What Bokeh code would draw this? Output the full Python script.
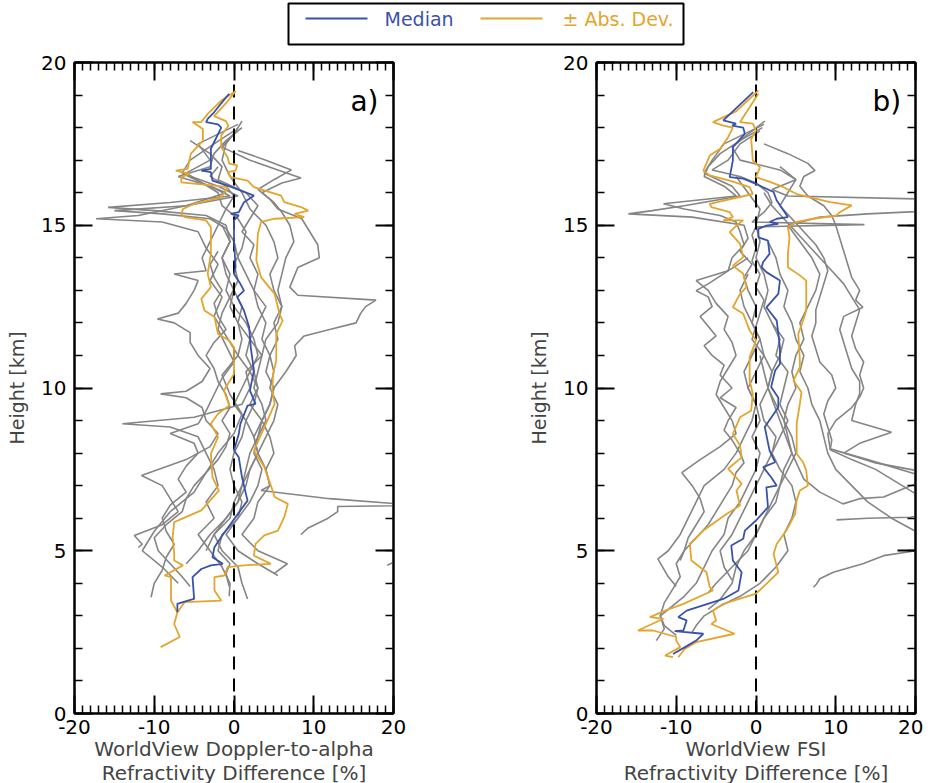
from bokeh.plotting import figure
from bokeh.models import Range1d, SingleIntervalTicker, LinearAxis, Label
from bokeh.layouts import column, row
from bokeh.core.properties import value
from bokeh.embed import file_html
from bokeh.resources import INLINE

FONT = "DejaVu Sans"
GRAY = "#858585"
BLUE = "#3A52A8"
ORANGE = "#E2A52E"

# ---------------- data (x = refractivity difference %, h = height km) ----------------
x_ticks = [-20, -10, 0, 10, 20]
zero_x = [0, 0]
zero_h = [0, 19.45]

# Panel a) WorldView Doppler-to-alpha
a_median = [(-0.6,19.04),(-1.0,18.93),(-2.5,18.47),(-3.3,18.27),(-3.5,18.17),(-2.0,18.10),(-1.6,18.00),(-2.5,17.55),(-2.9,17.35),(-2.9,16.73),(-4.1,16.68),(-2.9,16.63),(-2.7,16.37),(-0.8,16.22),(0.8,16.07),(2.5,15.91),(1.25,15.71),(0.6,15.40),(-0.4,15.35),(0.6,15.30),(0.0,15.15),(0.0,14.53),(0.2,13.71),(0.0,13.50),(0.8,13.20),(1.25,12.99),(0.4,12.79),(1.25,12.38),(1.9,11.87),(2.1,11.25),(2.5,10.54),(2.0,9.92),(2.7,9.51),(1.7,9.46),(0.8,8.90),(0.6,8.59),(0.0,8.08),(0.6,7.87),(1.0,7.26),(1.7,6.54),(0.8,6.24),(-0.4,5.83),(-1.6,5.42),(-2.45,5.11),(-2.7,4.80),(-1.4,4.60),(-2.9,4.55),(-4.1,4.44),(-5.2,4.19),(-5.0,3.52),(-5.8,3.47),(-7.1,3.37),(-7.1,3.11)]
a_dev_lo = [(0.2,19.12),(-1.6,18.83),(-3.3,18.42),(-4.1,18.17),(-5.2,18.17),(-3.9,17.96),(-3.9,17.60),(-5.4,17.20),(-5.6,16.99),(-5.8,16.73),(-7.3,16.68),(-5.6,16.58),(-6.6,16.48),(-6.6,16.32),(-2.5,16.22),(-0.8,16.17),(-1.6,15.86),(-5.0,15.66),(-6.4,15.50),(-6.6,15.35),(-6.2,15.25),(-3.5,15.15),(-2.9,14.94),(-2.9,14.12),(-3.3,13.51),(-2.9,13.10),(-4.1,12.74),(-3.7,12.38),(-2.45,12.18),(-2.0,11.66),(-0.6,11.46),(0.0,11.25),(0.0,10.43),(-1.0,10.03),(-1.25,9.92),(-0.6,9.46),(-2.0,9.21),(-2.9,8.90),(-2.0,8.49),(-2.9,7.98),(-2.7,7.26),(-1.9,6.85),(-4.1,6.24),(-7.5,5.88),(-7.7,5.42),(-7.5,4.90),(-7.5,4.70),(-6.4,4.55),(-8.7,4.24),(-7.9,4.19),(-7.9,3.47),(-7.1,3.11),(-7.5,2.75),(-6.8,2.35),(-9.2,2.04)]
a_dev_hi = [(0.2,19.12),(-1.0,18.75),(-2.5,18.35),(-1.0,18.20),(-0.7,18.05),(-1.6,17.76),(-1.6,17.40),(-0.8,17.09),(-0.6,16.89),(0.4,16.84),(0.2,16.68),(-0.8,16.63),(-0.4,16.48),(1.7,16.37),(2.5,16.17),(5.9,15.91),(6.3,15.71),(8.4,15.56),(9.3,15.45),(7.6,15.35),(8.8,15.25),(5.1,15.20),(3.4,15.10),(3.0,14.74),(2.8,13.92),(3.4,13.40),(5.1,12.89),(5.7,12.28),(6.1,12.07),(5.3,11.66),(5.3,10.84),(4.9,10.43),(4.8,9.92),(5.1,9.51),(4.0,8.90),(2.5,8.08),(3.8,7.57),(4.7,6.95),(5.1,6.65),(6.75,6.44),(6.3,6.03),(5.5,5.62),(3.8,5.47),(2.7,5.21),(2.5,4.85),(4.6,4.60),(1.3,4.55),(-0.8,4.50),(-1.2,4.24),(-2.45,4.19),(-2.45,3.78),(-1.6,3.47),(-6.2,3.42),(-7.1,3.11)]

a_g1 = [(0.5,18.1),(-2.0,17.8),(-4.5,17.5),(-3.0,17.0),(-6.0,16.6),(-4.0,16.3),(-1.0,16.0),(-6.0,15.6),(-12.0,15.3),(-17.3,15.2),(-9.0,15.1),(-4.5,14.8),(-3.5,14.3),(-2.0,13.8),(-3.0,13.3),(-1.5,12.8),(-2.5,12.2),(-1.0,11.6),(0.5,11.0),(-1.5,10.4),(-0.5,9.8),(1.0,9.2),(0.0,8.6),(-2.0,8.0),(-3.5,7.4),(-5.0,6.8),(-8.0,6.2),(-10.0,5.6),(-11.5,5.0),(-9.0,4.5),(-7.0,4.0)]
a_g2 = [(1.0,18.0),(-1.0,17.6),(-2.5,17.2),(-3.0,16.8),(-7.0,16.5),(-3.0,16.2),(-0.5,15.9),(-8.0,15.7),(-15.8,15.55),(-10.0,15.45),(-3.5,15.3),(-1.0,15.0),(-0.5,14.5),(-1.5,14.0),(-1.0,13.5),(0.0,13.0),(1.0,12.5),(0.5,12.0),(2.0,11.5),(1.5,11.0),(2.5,10.5),(3.0,10.0),(2.0,9.5),(3.5,9.0),(2.5,8.5),(3.0,8.0),(2.0,7.5),(1.5,7.0),(0.5,6.5),(-1.0,6.0),(-3.0,5.5),(-4.5,5.0),(-6.0,4.6)]
a_g3 = [(0.0,17.9),(-2.5,17.5),(-5.5,17.0),(-6.5,16.6),(-2.0,16.2),(0.5,15.9),(-6.0,15.6),(-15.0,15.45),(-9.0,15.35),(-3.0,15.2),(-1.0,14.9),(0.0,14.5),(0.5,14.0),(1.5,13.5),(2.5,13.0),(3.0,12.5),(4.0,12.0),(3.5,11.5),(4.5,11.0),(4.0,10.5),(5.0,10.0),(4.5,9.5),(3.5,9.0),(4.5,8.5),(5.0,8.0),(4.0,7.5),(4.5,7.0),(3.0,6.5),(2.5,6.0),(1.0,5.5),(3.0,5.0),(6.7,4.6),(5.0,4.3)]
a_g4 = [(0.5,17.3),(4.0,17.0),(7.2,16.7),(5.0,16.4),(3.0,16.1),(4.5,15.8),(5.5,15.5),(8.5,15.2),(9.5,14.8),(10.5,14.4),(10.7,14.0),(8.0,13.7),(7.5,13.4),(7.0,13.1),(8.0,12.85),(17.8,12.7),(16.5,12.5),(15.9,12.3),(15.3,12.0),(12.0,11.8),(8.8,11.6),(7.6,11.3),(7.8,11.0),(6.5,10.5),(5.0,10.0),(4.5,9.5),(3.5,9.0),(3.0,8.5),(2.0,8.0),(1.5,7.5),(1.0,7.0),(0.5,6.5),(-1.0,6.0),(-2.5,5.5),(-3.5,5.0)]
a_g5 = [(1.0,18.2),(0.0,17.8),(-1.5,17.4),(2.0,17.0),(5.5,16.7),(8.4,16.45),(6.0,16.3),(3.5,16.0),(5.0,15.7),(6.0,15.4),(7.0,15.0),(7.5,14.5),(6.5,14.0),(6.0,13.5),(5.5,13.0),(6.0,12.5),(5.0,12.0),(5.5,11.5),(4.5,11.0),(5.0,10.5),(4.5,10.0),(5.5,9.5),(5.0,9.0),(4.0,8.5),(3.0,8.0),(4.0,7.5),(4.5,7.0),(3.4,6.85),(12.0,6.6),(20.0,6.45),(25.0,6.4),(13.0,6.36),(13.0,6.2),(11.8,6.0),(9.3,5.7),(8.4,5.5)]
a_g6 = [(-5.5,17.6),(-3.0,17.2),(-1.5,16.8),(-2.0,16.4),(1.5,16.0),(3.0,15.6),(2.0,15.2),(1.0,14.8),(2.5,14.4),(2.0,14.0),(3.0,13.5),(2.5,13.0),(4.0,12.5),(3.0,12.0),(2.0,11.5),(3.5,11.0),(1.5,10.5),(2.0,10.0),(1.0,9.5),(-5.0,9.1),(-14.0,8.9),(-8.0,8.8),(-4.5,8.5),(-3.5,8.0),(-2.5,7.5),(-2.0,7.0),(-3.5,6.5),(-2.5,6.0),(-4.5,5.5),(-3.0,5.0),(-1.5,4.5),(-0.5,4.0),(-0.6,3.6)]
a_g7 = [(-2.0,16.8),(-3.0,16.5),(-1.0,16.2),(0.0,15.9),(-1.0,15.5),(-2.0,15.0),(-3.0,14.5),(-4.0,14.0),(-3.5,13.6),(-7.5,13.5),(-4.5,13.3),(-5.0,13.0),(-6.0,12.6),(-7.0,12.3),(-9.6,12.12),(-7.5,12.0),(-5.5,11.7),(-5.5,11.4),(-4.5,11.0),(-3.0,10.6),(-4.0,10.2),(-6.0,9.9),(-9.2,9.82),(-6.0,9.7),(-4.0,9.4),(-3.5,9.0),(-2.0,8.6),(-3.0,8.2),(-6.0,7.8),(-11.6,7.31),(-9.0,7.0),(-8.0,6.6),(-7.0,6.2),(-9.0,5.8),(-12.5,5.47),(-11.5,5.2),(-12.0,5.1)]
a_g8 = [(-6.5,16.6),(-4.0,16.3),(-2.0,16.0),(-1.5,15.6),(0.5,15.2),(1.5,14.8),(1.0,14.3),(0.0,13.8),(0.5,13.3),(-0.5,12.8),(-1.5,12.3),(-2.0,11.8),(-1.0,11.3),(0.0,10.8),(-1.5,10.3),(-2.5,9.8),(-3.5,9.3),(-4.5,8.9),(-8.0,8.6),(-5.0,8.3),(-4.5,8.0),(-6.0,7.6),(-7.0,7.2),(-6.0,6.8),(-8.0,6.4),(-9.0,6.0),(-8.5,5.6),(-7.5,5.2),(-8.5,4.8),(-9.0,4.4),(-10.0,4.0),(-10.4,3.57)]
a_g9 = [(0.5,18.0),(-1.0,17.5),(-1.5,17.0),(-0.5,16.5),(1.0,16.0),(2.0,15.5),(4.0,15.0),(5.0,14.5),(5.5,14.0),(4.5,13.5),(5.0,13.0),(6.0,12.5),(5.5,12.0),(4.0,11.5),(3.5,11.0),(3.0,10.5),(2.5,10.0),(3.5,9.5),(4.0,9.0),(3.0,8.5),(2.5,8.0),(3.5,7.5),(3.0,7.0),(2.0,6.5),(0.5,6.0),(-1.0,5.5),(0.5,5.0),(3.0,4.6),(5.5,4.24)]
a_g10 = [(-1.5,15.0),(-0.5,14.5),(-1.5,14.0),(-0.5,13.5),(-1.0,13.0),(0.0,12.5),(1.5,12.0),(2.5,11.5),(3.0,11.0),(2.0,10.5),(1.0,10.0),(0.0,9.5),(1.5,9.0),(2.5,8.5),(3.0,8.0),(2.0,7.5),(1.0,7.0),(0.0,6.5),(-0.5,6.0),(-2.5,5.5),(-1.5,5.0),(0.5,4.5),(1.0,4.0),(1.7,3.52)]
a_g11 = [(-2.0,14.2),(-3.0,13.8),(-2.5,13.4),(-1.5,13.0),(-2.5,12.6),(-2.0,12.2),(-1.0,11.8),(-2.5,11.4),(-3.5,11.0),(-2.5,10.6),(-2.0,10.2),(-1.0,9.8),(-0.5,9.4),(-1.5,9.0),(-0.5,8.6),(-1.0,8.2),(-2.0,7.8),(-3.5,7.4),(-5.0,7.0),(-6.0,6.6),(-6.5,6.2),(-8.5,5.8),(-10.0,5.4),(-9.5,5.0),(-8.0,4.6),(-6.5,4.2),(-5.5,3.9)]
a_g12 = [(0.0,13.0),(-0.5,12.5),(0.5,12.0),(1.0,11.5),(0.5,11.0),(2.0,10.5),(3.0,10.0),(2.5,9.5),(1.5,9.0),(1.0,8.5),(0.0,8.0),(-0.5,7.5),(0.0,7.0),(1.0,6.5),(0.5,6.0),(-1.5,5.5),(-2.0,5.0),(-0.5,4.6),(-1.0,4.3),(-0.6,3.9)]
a_g13 = [(21.0,4.75),(19.6,4.6),(19.2,4.55)]

# Panel b) WorldView FSI
b_median = [(-0.35,19.09),(-4.1,18.22),(-2.5,18.12),(-3.0,18.06),(-1.6,18.0),(-1.4,17.81),(-2.9,17.40),(-2.9,16.99),(-3.3,16.48),(-1.6,16.43),(0.0,16.27),(2.2,16.02),(2.6,15.76),(4.0,15.25),(2.6,15.20),(1.7,15.10),(2.8,15.04),(1.3,14.99),(0.3,14.89),(0.3,14.63),(1.5,14.53),(1.7,14.12),(0.9,13.87),(0.7,13.71),(1.3,13.56),(3.0,13.30),(2.8,12.89),(1.3,12.48),(2.6,12.07),(3.0,11.25),(3.0,10.74),(2.4,10.54),(1.9,10.03),(2.8,9.70),(2.8,9.41),(1.1,8.80),(1.7,8.08),(2.4,7.72),(0.9,7.57),(1.9,7.26),(2.6,7.00),(1.3,6.95),(1.5,6.34),(0.0,5.93),(-1.4,5.62),(-1.6,5.37),(-3.1,5.16),(-2.9,4.70),(-1.8,4.34),(-2.2,3.78),(-4.1,3.52),(-8.7,3.16),(-9.75,2.96),(-8.7,2.86),(-9.1,2.55),(-10.2,2.53),(-6.6,2.45),(-7.5,2.24),(-8.9,2.04),(-10.4,1.83)]
b_dev_lo = [(0.3,19.14),(-2.5,18.5),(-5.4,18.17),(-4.1,18.06),(-2.9,18.0),(-3.5,17.7),(-4.5,17.35),(-5.8,17.14),(-6.6,16.68),(-5.8,16.53),(-3.3,16.37),(-0.8,16.17),(-0.4,15.96),(-5.8,15.66),(-5.6,15.56),(-3.3,15.40),(-2.9,15.25),(-4.1,15.15),(-1.6,15.15),(-2.45,14.99),(-3.3,14.79),(-2.0,14.43),(-1.6,14.02),(-2.9,13.76),(-1.6,13.51),(-1.2,13.10),(-2.0,12.89),(-2.9,12.48),(-1.6,12.28),(-0.8,11.77),(0.0,11.46),(-0.8,10.95),(-0.8,10.23),(-0.4,9.82),(-0.6,9.31),(-2.0,9.10),(-2.9,8.59),(-2.0,8.23),(-1.8,7.87),(-3.5,7.52),(-1.8,7.06),(-2.45,6.85),(-2.0,6.39),(-3.7,6.13),(-6.6,5.62),(-8.3,5.21),(-8.1,4.70),(-6.2,4.34),(-5.8,3.88),(-5.4,3.78),(-9.1,3.37),(-11.4,3.16),(-13.3,2.96),(-11.6,2.91),(-14.8,2.55),(-12.9,2.55),(-10.0,2.35),(-10.0,2.24),(-9.5,2.04),(-11.4,1.78),(-10.4,1.73)]
b_dev_hi = [(0.3,19.04),(-2.0,18.17),(-0.4,18.12),(0.0,17.91),(-0.6,17.65),(-0.4,16.99),(0.5,16.78),(0.0,16.48),(1.3,16.37),(3.0,16.22),(5.1,15.96),(9.3,15.71),(12.0,15.61),(10.5,15.40),(10.1,15.30),(7.2,15.20),(5.1,15.10),(4.0,14.94),(4.2,14.63),(4.0,14.12),(4.0,13.71),(5.5,13.46),(6.3,13.30),(6.3,12.89),(6.3,12.38),(5.9,12.07),(5.3,11.66),(5.5,10.84),(5.5,10.64),(4.7,10.23),(5.7,9.87),(5.5,9.51),(5.1,8.90),(5.1,7.98),(5.9,7.72),(6.3,7.47),(6.5,7.00),(5.5,6.85),(5.1,6.54),(4.9,6.13),(3.8,5.62),(2.6,5.21),(2.2,4.90),(2.8,4.34),(1.3,3.98),(0.0,3.68),(-4.1,3.37),(-5.4,3.16),(-5.0,2.86),(-5.6,2.75),(-2.7,2.45),(-7.5,2.19),(-8.9,1.99),(-9.75,1.73)]

b_g1 = [(1.0,18.1),(-1.5,17.8),(-4.0,17.5),(-5.5,17.0),(-6.5,16.6),(-3.0,16.2),(-2.0,15.9),(-9.0,15.6),(-13.0,15.45),(-16.0,15.35),(-8.0,15.25),(-1.5,15.0),(-1.0,14.6),(-2.0,14.2),(-0.5,13.8),(-1.5,13.4),(-1.0,13.0),(0.0,12.5),(-0.5,12.0),(0.5,11.5),(-0.5,11.0),(-1.5,10.5),(-1.0,10.0),(0.0,9.5),(-0.5,9.0),(-1.5,8.5),(-2.5,8.0),(-4.0,7.5),(-6.5,7.0),(-7.5,6.5),(-8.5,6.0),(-9.5,5.5),(-11.0,5.0),(-12.3,4.75),(-11.0,4.2),(-10.0,3.9)]
b_g2 = [(0.8,18.0),(-2.0,17.6),(-4.5,17.2),(-6.0,16.8),(-6.5,16.5),(-4.0,16.2),(-2.5,15.9),(-11.6,15.66),(-9.0,15.5),(-4.5,15.3),(-2.5,15.1),(-2.0,14.8),(-1.5,14.4),(-3.0,14.0),(-3.5,13.6),(-7.5,13.3),(-6.0,13.0),(-5.0,12.6),(-3.5,12.2),(-4.0,11.8),(-3.0,11.4),(-2.5,11.0),(-3.5,10.6),(-4.5,10.2),(-5.0,9.8),(-4.0,9.4),(-3.0,9.0),(-2.5,8.6),(-4.5,8.2),(-7.0,7.8),(-9.3,7.4),(-8.0,7.0),(-7.0,6.6),(-6.5,6.2),(-7.5,5.8),(-8.5,5.4),(-9.0,5.0),(-10.0,4.6),(-9.5,4.2),(-10.5,3.8),(-11.5,3.4),(-12.0,3.0),(-11.5,2.6),(-12.5,2.24)]
b_g3 = [(1.1,18.2),(-1.0,17.8),(-3.0,17.4),(-2.0,17.0),(3.0,16.7),(5.0,16.4),(2.0,16.1),(4.0,15.9),(20.0,15.81),(26.0,15.6),(20.0,15.42),(14.0,15.35),(8.0,15.25),(4.0,15.0),(5.5,14.5),(7.0,14.0),(8.0,13.5),(7.5,13.0),(6.5,12.5),(5.5,12.0),(6.0,11.5),(5.0,11.0),(4.5,10.5),(5.0,10.0),(4.0,9.5),(3.5,9.0),(4.5,8.5),(5.0,8.0),(4.0,7.5),(3.0,7.0),(2.0,6.5),(1.0,6.0),(0.0,5.5),(-1.0,5.0),(-3.0,4.5),(-5.0,4.0),(-6.0,3.7)]
b_g4 = [(0.5,17.9),(-2.0,17.5),(-3.5,17.0),(-5.5,16.7),(-2.0,16.5),(0.0,16.3),(1.5,16.0),(2.0,15.7),(1.0,15.4),(-0.5,15.1),(13.6,15.02),(0.0,14.95),(-0.5,14.7),(0.0,14.3),(-0.5,13.9),(0.5,13.5),(0.0,13.1),(1.0,12.7),(0.5,12.3),(0.0,11.9),(-0.5,11.5),(1.0,11.0),(2.0,10.5),(1.5,10.0),(0.5,9.5),(1.0,9.0),(2.5,8.5),(2.0,8.0),(1.0,7.5),(0.0,7.0),(-1.0,6.5),(-2.0,6.0),(-3.0,5.5),(-4.5,5.0),(-4.0,4.5),(-3.0,4.1)]
b_g5 = [(1.0,17.5),(4.0,17.2),(6.5,16.9),(7.4,16.68),(6.0,16.5),(5.5,16.2),(6.5,15.9),(8.5,15.6),(9.5,15.3),(10.0,15.0),(10.5,14.6),(11.0,14.2),(11.5,13.8),(12.0,13.4),(13.0,13.0),(12.5,12.7),(13.4,12.48),(11.0,12.2),(10.5,11.8),(11.0,11.4),(11.5,11.0),(12.0,10.6),(13.0,10.2),(13.0,9.82),(12.5,9.5),(12.0,9.0),(17.0,8.64),(13.0,8.3),(11.0,8.0),(15.0,7.7),(20.0,7.47),(24.0,7.3)]
b_g6 = [(3.0,16.8),(5.0,16.4),(4.0,16.0),(3.0,15.6),(4.5,15.2),(6.0,14.8),(7.5,14.4),(8.5,14.0),(9.0,13.6),(8.5,13.2),(8.0,12.8),(7.5,12.4),(7.5,12.0),(7.0,11.6),(7.5,11.2),(8.0,10.8),(9.5,10.4),(10.0,10.0),(9.0,9.6),(8.5,9.2),(9.0,8.8),(9.5,8.4),(9.3,8.1),(12.0,7.8),(15.0,7.5),(17.0,7.2),(19.0,6.9),(21.0,6.6),(22.0,6.3),(21.0,6.1),(19.3,6.03),(14.0,6.0),(10.1,5.95)]
b_g7 = [(1.5,14.5),(2.5,14.0),(3.0,13.5),(4.0,13.0),(3.5,12.5),(4.5,12.0),(5.0,11.5),(6.0,11.0),(5.5,10.5),(6.5,10.0),(7.0,9.5),(8.0,9.0),(8.5,8.5),(9.0,8.0),(10.0,7.5),(12.0,7.0),(14.0,6.5),(17.0,6.0),(20.0,5.6),(23.0,5.3),(20.1,5.0),(16.0,4.85),(13.4,4.6),(9.7,4.34),(8.0,4.14),(7.6,3.98),(7.2,3.88)]
b_g8 = [(-1.0,13.5),(-2.0,13.0),(-1.5,12.5),(-0.5,12.0),(0.5,11.5),(1.0,11.0),(0.0,10.5),(-1.0,10.0),(0.0,9.5),(0.5,9.0),(-0.5,8.5),(0.5,8.0),(0.0,7.5),(-1.0,7.0),(-2.0,6.5),(-3.5,6.0),(-4.0,5.5),(-5.5,5.0),(-6.5,4.5),(-7.5,4.0),(-9.0,3.6),(-10.5,3.3),(-12.0,3.0),(-11.5,2.7),(-10.0,2.4)]
b_g9 = [(2.0,12.0),(3.0,11.5),(2.5,11.0),(4.0,10.5),(3.5,10.0),(3.0,9.5),(4.0,9.0),(3.0,8.5),(2.0,8.0),(3.0,7.5),(4.5,7.0),(5.0,6.5),(4.5,6.0),(3.5,5.5),(4.0,5.0),(2.5,4.5),(0.5,4.0),(-2.0,3.6),(-4.5,3.3),(-6.5,3.0),(-7.5,2.7),(-8.0,2.5)]
b_g10 = [(-1.0,14.0),(-3.5,13.6),(-6.0,13.2),(-7.5,12.99),(-6.0,12.8),(-5.5,12.5),(-7.0,12.2),(-6.0,11.9),(-5.0,11.6),(-6.5,11.3),(-5.5,11.0),(-4.0,10.7),(-4.5,10.4),(-3.0,10.0),(-4.5,9.7),(-2.5,9.4),(-3.5,9.0),(-4.0,8.7),(-3.0,8.4),(-2.0,8.0),(-1.5,7.7),(-2.5,7.4),(-3.0,7.0),(-4.0,6.6),(-5.0,6.2),(-6.0,5.8),(-7.5,5.4),(-9.0,5.0),(-9.5,4.7)]
b_g11 = [(-2.5,16.5),(-1.0,16.0),(0.5,15.5),(0.0,15.0),(0.5,14.5),(0.0,14.0),(1.0,13.5),(1.5,13.0),(1.0,12.5),(2.0,12.0),(3.5,11.5),(3.0,11.0),(2.0,10.5),(1.5,10.0),(2.5,9.5),(3.5,9.0),(4.0,8.5),(4.5,8.0),(3.5,7.5),(3.0,7.0),(2.5,6.5),(1.0,6.0),(0.0,5.5),(-1.5,5.0),(-2.5,4.5),(-3.0,4.0),(-4.5,3.5),(-6.0,3.2)]
b_g12 = [(1.0,16.0),(2.0,15.6),(3.5,15.2),(5.0,14.8),(6.5,14.4),(8.0,14.0),(9.5,13.6),(11.0,13.2),(12.0,12.8),(13.0,12.4),(12.5,12.0),(12.0,11.6),(12.5,11.2),(13.5,10.8),(13.0,10.4),(13.5,10.0),(13.0,9.72),(12.0,9.4),(10.0,9.0),(9.0,8.6),(9.3,8.13),(14.0,7.8),(20.0,7.36),(24.0,7.1)]
b_g13 = [(0.5,11.0),(1.5,10.0),(3.0,9.0),(4.5,8.0),(6.0,7.2),(8.0,6.8),(10.9,6.44),(13.0,6.6),(16.0,6.65),(20.0,7.06),(24.0,7.3)]

a_gray = [a_g1, a_g2, a_g3, a_g4, a_g5, a_g6, a_g7, a_g8, a_g9, a_g10, a_g11, a_g12, a_g13]
b_gray = [b_g1, b_g2, b_g3, b_g4, b_g5, b_g6, b_g7, b_g8, b_g9, b_g10, b_g11, b_g12, b_g13]

a_xlabel = "WorldView Doppler-to-alpha\nRefractivity Difference [%]"
b_xlabel = "WorldView FSI\nRefractivity Difference [%]"
y_label = "Height [km]"


def xs_of(pts):
    return [p[0] for p in pts]


def hs_of(pts):
    return [p[1] for p in pts]


def style_axis(ax, show_labels):
    ax.axis_line_color = "black"
    ax.axis_line_width = 2
    ax.major_tick_in = 18
    ax.major_tick_out = 0
    ax.minor_tick_in = 8
    ax.minor_tick_out = 0
    ax.major_tick_line_color = "black"
    ax.minor_tick_line_color = "black"
    ax.major_tick_line_width = 2
    ax.minor_tick_line_width = 1.5
    if show_labels:
        ax.major_label_text_font = FONT
        ax.major_label_text_font_size = "20px"
        ax.major_label_text_color = "black"
    else:
        ax.major_label_text_font_size = "1px"
        ax.major_label_text_color = None
        ax.major_label_standoff = 0


def make_panel(gray, median, lo, hi, tag, xlabel, border_right):
    p = figure(frame_width=319, frame_height=651,
               x_range=Range1d(-20, 20), y_range=Range1d(0, 20),
               x_axis_type=None, y_axis_type=None,
               output_backend="svg", toolbar_location=None,
               min_border_left=74, min_border_right=border_right,
               min_border_top=10, min_border_bottom=62,
               outline_line_color="black", outline_line_width=2)
    bottom = LinearAxis(ticker=SingleIntervalTicker(interval=10, num_minor_ticks=10))
    style_axis(bottom, True)
    bottom.major_label_overrides = {t: str(t) for t in x_ticks}
    bottom.major_label_standoff = 6
    bottom.axis_label = xlabel
    bottom.axis_label_text_font = FONT
    bottom.axis_label_text_font_size = "20px"
    bottom.axis_label_text_font_style = "normal"
    bottom.axis_label_text_line_height = 1.0
    bottom.axis_label_standoff = 0
    p.add_layout(bottom, "below")
    top = LinearAxis(ticker=SingleIntervalTicker(interval=10, num_minor_ticks=10))
    style_axis(top, False)
    p.add_layout(top, "above")
    left = LinearAxis(ticker=SingleIntervalTicker(interval=5, num_minor_ticks=5))
    style_axis(left, True)
    left.major_label_standoff = 8
    left.axis_label = y_label
    left.axis_label_text_font = FONT
    left.axis_label_text_font_size = "19px"
    left.axis_label_text_font_style = "normal"
    left.axis_label_standoff = 10
    p.add_layout(left, "left")
    right = LinearAxis(ticker=SingleIntervalTicker(interval=5, num_minor_ticks=5))
    style_axis(right, False)
    p.add_layout(right, "right")

    p.multi_line([xs_of(g) for g in gray], [hs_of(g) for g in gray],
                 line_color=GRAY, line_width=1.6)
    p.line(zero_x, zero_h, line_color="black", line_width=2, line_dash="13 9")
    p.line(xs_of(lo), hs_of(lo), line_color=ORANGE, line_width=1.8)
    p.line(xs_of(hi), hs_of(hi), line_color=ORANGE, line_width=1.8)
    p.line(xs_of(median), hs_of(median), line_color=BLUE, line_width=1.8)
    p.add_layout(Label(x=14.6, y=18.8, text=tag, text_font=FONT,
                       text_font_size="28px", text_baseline="middle",
                       text_align="left", text_color="black"))
    return p


pa = make_panel(a_gray, a_median, a_dev_lo, a_dev_hi, "a)", a_xlabel, 129)
pb = make_panel(b_gray, b_median, b_dev_lo, b_dev_hi, "b)", b_xlabel, 8)

# legend strip across the top
leg = figure(width=923, height=52, x_range=Range1d(0, 923), y_range=Range1d(0, 52),
             x_axis_type=None, y_axis_type=None, output_backend="svg",
             toolbar_location=None, min_border=0, outline_line_color=None)
leg.quad(left=[288], right=[683], bottom=[8], top=[49], fill_color=None,
         line_color="black", line_width=2)
leg.line([305, 367], [34, 34], line_color=BLUE, line_width=2)
leg.line([480, 542], [34, 34], line_color=ORANGE, line_width=2)
leg.text(x=[384], y=[34], text=["Median"], text_color=BLUE, text_font=value(FONT),
         text_font_size="19px", text_baseline="middle")
leg.text(x=[562], y=[34], text=["\u00b1 Abs. Dev."], text_color=ORANGE, text_font=value(FONT),
         text_font_size="19px", text_baseline="middle")

layout = column(leg, row(pa, pb))
open("out.html", "w").write(file_html(layout, INLINE))
